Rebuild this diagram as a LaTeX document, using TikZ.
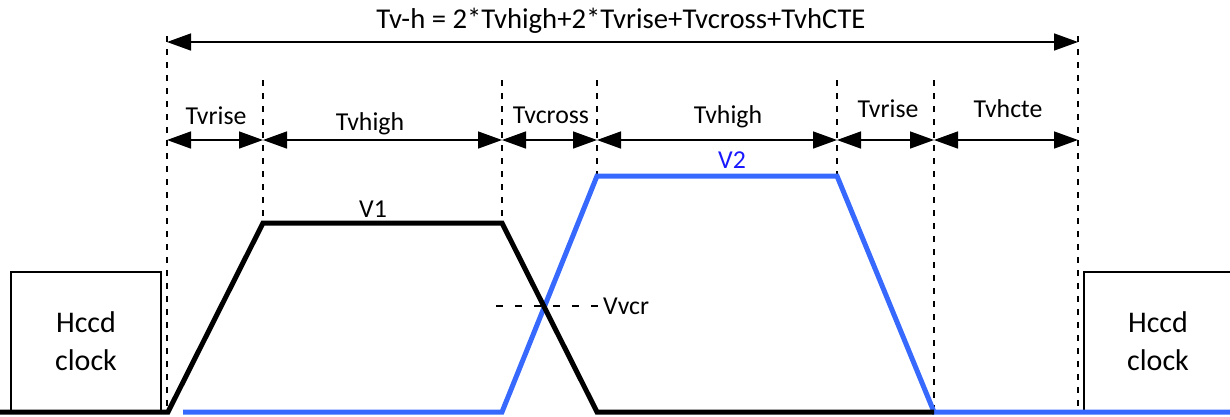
\documentclass[tikz,border=0pt]{standalone}
\usepackage{fontspec}
\setmainfont{Carlito}
\usetikzlibrary{arrows.meta}
\definecolor{vblue}{RGB}{55,105,255}
\definecolor{vlabel}{RGB}{25,25,255}
\begin{document}
\begin{tikzpicture}[x=1pt,y=-1pt,
  guide/.style={line width=1.3pt, dash pattern=on 6pt off 7pt},
  dim/.style={line width=1.5pt, {Triangle[length=24pt,width=17pt]}-{Triangle[length=24pt,width=17pt]}},
  lbl/.style={font=\fontsize{25.8}{28}\selectfont, anchor=base, inner sep=0pt},
  ttl/.style={font=\fontsize{28.7}{32}\selectfont, anchor=base, inner sep=0pt},
  hbox/.style={font=\fontsize{30}{38}\selectfont, align=center, inner sep=0pt},
  wave/.style={line width=5pt, line join=miter},
  boxline/.style={line width=1.5pt}]
\useasboundingbox (0,0) rectangle (1230,416);

% guide coordinates
\coordinate (g1t) at (167,36);  \coordinate (g1b) at (167,412);
\coordinate (g2t) at (263,80);  \coordinate (g2b) at (263,222);
\coordinate (g3t) at (502,80);  \coordinate (g3b) at (502,222);
\coordinate (g4t) at (597,80);  \coordinate (g4b) at (597,175);
\coordinate (g5t) at (837,80);  \coordinate (g5b) at (837,175);
\coordinate (g6t) at (934,80);  \coordinate (g6b) at (934,412);
\coordinate (g7t) at (1078,36); \coordinate (g7b) at (1078,412);

\foreach \i in {1,...,7} \draw[guide] (g\i t) -- (g\i b);

% total arrow
\coordinate (tl) at (167,42);
\coordinate (tr) at (1078,42);
\draw[dim] (tl) -- (tr);
\node[ttl] (title) at (621,28) {Tv-h = 2*Tvhigh+2*Tvrise+Tvcross+TvhCTE};

% segment arrows
\coordinate (d1) at (167,140);
\coordinate (d2) at (263,140);
\coordinate (d3) at (502,140);
\coordinate (d4) at (597,140);
\coordinate (d5) at (837,140);
\coordinate (d6) at (934,140);
\coordinate (d7) at (1078,140);
\draw[dim] (d1) -- (d2);
\draw[dim] (d2) -- (d3);
\draw[dim] (d3) -- (d4);
\draw[dim] (d4) -- (d5);
\draw[dim] (d5) -- (d6);
\draw[dim] (d6) -- (d7);

\node[lbl] (l1) at (216,124) {Tvrise};
\node[lbl] (l2) at (370,130) {Tvhigh};
\node[lbl] (l3) at (551,123) {Tvcross};
\node[lbl] (l4) at (728,123) {Tvhigh};
\node[lbl] (l5) at (888,117) {Tvrise};
\node[lbl] (l6) at (1008,117) {Tvhcte};

% Hccd boxes
\draw[boxline] (11,412) -- (11,272) -- (161,272) -- (161,412);
\node[hbox] (h1) at (86,341) {Hccd\\clock};
\draw[boxline] (1084,412) -- (1084,272) -- (1232,272);
\node[hbox] (h2) at (1158,341) {Hccd\\clock};

% waveforms
\draw[wave, vblue] (183,412) -- (502,412) -- (597,176) -- (837,176) -- (934,412) -- (1232,412);
\draw[wave, black] (-2,412) -- (168,412) -- (263,223) -- (502,223) -- (597,412) -- (934,412);

\node[lbl] (v1) at (373,217) {V1};
\node[lbl, text=vlabel] (v2) at (732,168) {V2};

% Vvcr
\coordinate (vc1) at (496,306);
\coordinate (vc2) at (600,306);
\draw[line width=1.3pt, dash pattern=on 7pt off 12pt] (vc1) -- (vc2);
\node[lbl, anchor=base west] (vvcr) at (603,314) {Vvcr};
\end{tikzpicture}
\end{document}
